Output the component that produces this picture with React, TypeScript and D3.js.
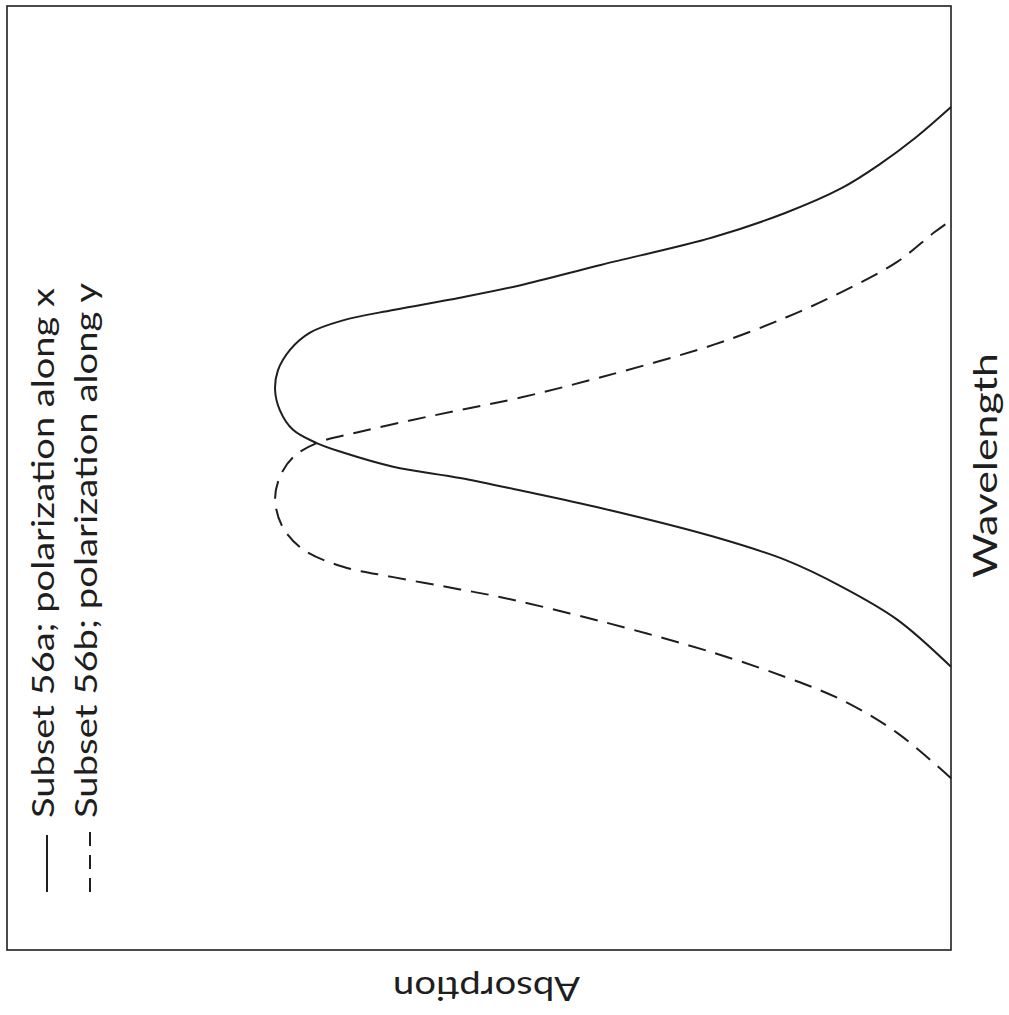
import { useEffect, useRef } from "react";
import * as d3 from "d3";

// Values. The figure is rotated 90° counter-clockwise:
// wavelength runs bottom -> top, absorption runs right -> left.
// wavelength and absorption are both on an arbitrary 0..100 scale.
const solidWavelength = [
  30.0, 35.0, 38.5, 41.3, 43.8, 46.8, 48.7, 50.0, 51.2, 52.7, 53.7, 55.1, 57.2,
  59.3, 61.4, 63.6, 65.4, 66.7, 67.8, 69.1, 70.4, 72.6, 75.5, 78.1, 80.7, 83.2,
  86.1, 89.3,
];
const solidAbsorption = [
  0.0, 5.7, 11.6, 17.5, 25.2, 37.0, 45.7, 52.0, 59.1, 64.4, 67.2, 69.7, 71.1,
  71.6, 71.3, 70.0, 67.9, 64.4, 59.1, 52.0, 45.7, 37.0, 25.2, 17.5, 11.6, 7.6,
  3.7, 0.0,
];

const dashedWavelength = [
  18.2, 23.0, 26.5, 28.9, 31.5, 34.8, 37.4, 38.2, 39.5, 40.6, 42.4, 44.8, 47.7,
  50.1, 52.2, 53.7, 54.9, 56.1, 57.2, 58.5, 60.7, 64.1, 67.0, 69.7, 72.9, 76.0,
  77.3,
];
const dashedAbsorption = [
  0.0, 5.7, 11.6, 17.5, 25.2, 37.0, 47.8, 52.0, 59.1, 64.4, 68.6, 70.8, 71.6,
  71.1, 69.7, 67.2, 62.6, 57.3, 52.0, 45.7, 37.0, 25.2, 17.5, 11.6, 5.7, 1.8,
  0.0,
];

const seriesLabels = [
  "Subset 56a; polarization along x",
  "Subset 56b; polarization along y",
];
const xAxisLabel = "Wavelength";
const yAxisLabel = "Absorption";

const WIDTH = 1009;
const HEIGHT = 1015;
const FRAME = { left: 7, top: 6, right: 951, bottom: 950 };
const INK = "#1e1e1e";
const FONT = "Lato, 'DejaVu Sans', sans-serif";

type Pt = { w: number; a: number };

export default function App() {
  const svgRef = useRef<SVGSVGElement>(null);

  useEffect(() => {
    const svgEl = svgRef.current;
    if (!svgEl) return;
    const svg = d3.select(svgEl);
    svg.selectAll("*").remove();

    // absorption -> screen x (grows to the left), wavelength -> screen y (grows upward)
    const aScale = d3.scaleLinear().domain([0, 100]).range([FRAME.right, FRAME.left]);
    const wScale = d3.scaleLinear().domain([0, 100]).range([FRAME.bottom, FRAME.top]);

    const solid: Pt[] = solidWavelength.map((w, i) => ({ w, a: solidAbsorption[i] }));
    const dashed: Pt[] = dashedWavelength.map((w, i) => ({ w, a: dashedAbsorption[i] }));

    const line = d3
      .line<Pt>()
      .x((d) => aScale(d.a))
      .y((d) => wScale(d.w))
      .curve(d3.curveCatmullRom.alpha(0.5));

    svg
      .append("rect")
      .attr("x", FRAME.left)
      .attr("y", FRAME.top)
      .attr("width", FRAME.right - FRAME.left)
      .attr("height", FRAME.bottom - FRAME.top)
      .attr("fill", "none")
      .attr("stroke", INK)
      .attr("stroke-width", 1.6);

    svg
      .append("path")
      .attr("d", line(solid) ?? "")
      .attr("fill", "none")
      .attr("stroke", INK)
      .attr("stroke-width", 2);

    svg
      .append("path")
      .attr("d", line(dashed) ?? "")
      .attr("fill", "none")
      .attr("stroke", INK)
      .attr("stroke-width", 2)
      .attr("stroke-dasharray", "18,10");

    // legend
    const legend = [
      { x: 47, y0: 892, y1: 835, dash: null as string | null, tx: 54, len: 530 },
      { x: 90, y0: 892, y1: 830, dash: "14,9", tx: 97, len: 535 },
    ];
    legend.forEach((l, i) => {
      svg
        .append("line")
        .attr("x1", l.x)
        .attr("x2", l.x)
        .attr("y1", l.y0)
        .attr("y2", l.y1)
        .attr("stroke", INK)
        .attr("stroke-width", 2)
        .attr("stroke-dasharray", l.dash);
      svg
        .append("text")
        .attr("transform", `translate(${l.tx},818) rotate(-90)`)
        .attr("font-family", FONT)
        .attr("font-size", 31)
        .attr("fill", INK)
        .attr("textLength", l.len)
        .attr("lengthAdjust", "spacingAndGlyphs")
        .text(seriesLabels[i]);
    });

    svg
      .append("text")
      .attr("transform", `translate(997,578) rotate(-90)`)
      .attr("font-family", FONT)
      .attr("font-size", 33)
      .attr("fill", INK)
      .attr("textLength", 225)
      .attr("lengthAdjust", "spacingAndGlyphs")
      .text(xAxisLabel);

    svg
      .append("text")
      .attr("transform", `translate(580,977) rotate(180)`)
      .attr("font-family", FONT)
      .attr("font-size", 33)
      .attr("fill", INK)
      .attr("textLength", 187)
      .attr("lengthAdjust", "spacingAndGlyphs")
      .text(yAxisLabel);
  }, []);

  return (
    <svg
      ref={svgRef}
      width={WIDTH}
      height={HEIGHT}
      style={{ position: "absolute", left: 0, top: 0, background: "#fff" }}
    />
  );
}
